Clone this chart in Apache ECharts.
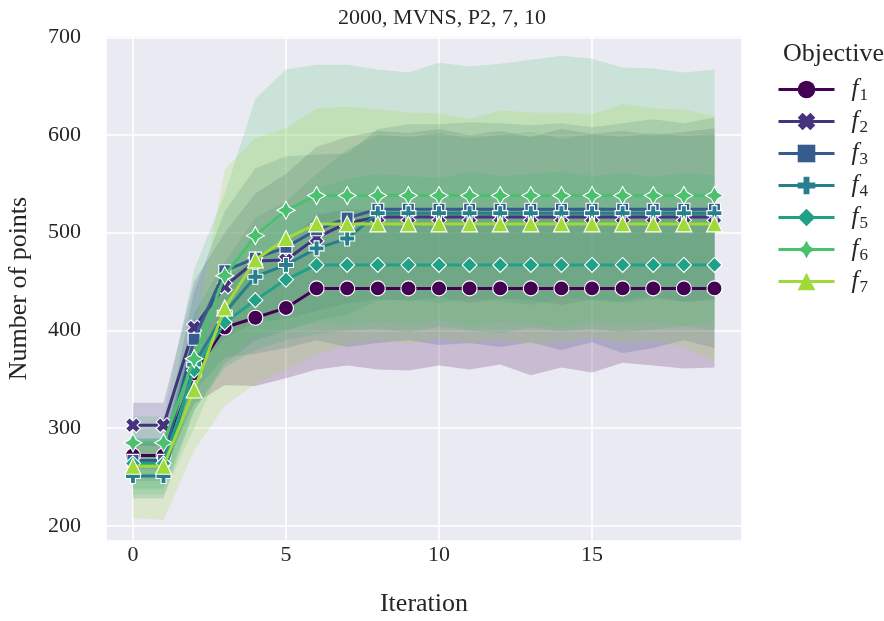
<!DOCTYPE html>
<html>
<head>
<meta charset="utf-8">
<script src="https://cdn.jsdelivr.net/npm/echarts@6/dist/echarts.min.js"></script>
<style>
  html, body { margin: 0; padding: 0; background: #ffffff; }
  #chart { width: 884px; height: 621px; }
</style>
</head>
<body>
<div id="chart"></div>
<script>
// Iterations on the x axis
const iterations = [0, 1, 2, 3, 4, 5, 6, 7, 8, 9, 10, 11, 12, 13, 14, 15, 16, 17, 18, 19];

// Mean number of points per objective
const f1Mean = [272, 272, 356, 403, 413, 423, 443, 443, 443, 443, 443, 443, 443, 443, 443, 443, 443, 443, 443, 443];
const f2Mean = [303, 303, 403, 445, 471, 472, 495, 510, 516, 516, 516, 516, 516, 516, 516, 516, 516, 516, 516, 516];
const f3Mean = [267, 267, 391, 461, 474, 485, 503, 515, 524, 524, 524, 524, 524, 524, 524, 524, 524, 524, 524, 524];
const f4Mean = [251, 251, 365, 418, 455, 467, 484, 494, 520, 520, 520, 520, 520, 520, 520, 520, 520, 520, 520, 520];
const f5Mean = [264, 264, 359, 408, 431, 452, 467, 467, 467, 467, 467, 467, 467, 467, 467, 467, 467, 467, 467, 467];
const f6Mean = [285, 285, 371, 456, 497, 523, 538, 538, 538, 538, 538, 538, 538, 538, 538, 538, 538, 538, 538, 538];
const f7Mean = [261, 261, 339, 423, 472, 494, 509, 509, 509, 509, 509, 509, 509, 509, 509, 509, 509, 509, 509, 509];

// Interval bounds (lower / upper) per objective
const f1Low  = [258, 258, 325, 344, 343, 351, 360, 364, 360, 359, 364, 360, 365, 354, 362, 357, 367, 364, 361, 362];
const f1High = [286, 286, 395, 455, 472, 488, 518, 524, 522, 526, 520, 527, 523, 525, 521, 528, 522, 526, 524, 520];
const f2Low  = [282, 282, 360, 392, 408, 412, 420, 428, 432, 430, 434, 428, 433, 431, 426, 432, 430, 435, 429, 431];
const f2High = [326, 326, 450, 500, 540, 560, 588, 598, 604, 602, 606, 600, 604, 598, 606, 601, 604, 600, 603, 607];
const f3Low  = [246, 246, 338, 372, 376, 382, 390, 383, 387, 390, 385, 387, 383, 388, 380, 388, 377, 382, 390, 382];
const f3High = [289, 289, 440, 522, 566, 578, 580, 581, 606, 611, 611, 613, 612, 610, 612, 608, 612, 616, 612, 618];
const f4Low  = [228, 228, 318, 366, 390, 400, 410, 416, 430, 432, 428, 433, 430, 426, 434, 431, 428, 432, 430, 433];
const f4High = [273, 273, 418, 470, 515, 532, 560, 585, 600, 598, 602, 597, 600, 603, 596, 601, 598, 602, 599, 601];
const f5Low  = [238, 238, 318, 362, 380, 390, 396, 400, 402, 398, 404, 400, 397, 403, 399, 402, 398, 401, 404, 400];
const f5High = [290, 290, 400, 462, 492, 520, 545, 555, 560, 558, 556, 562, 558, 560, 563, 558, 561, 557, 561, 559];
const f6Low  = [232, 232, 300, 372, 396, 402, 408, 405, 410, 406, 411, 404, 409, 407, 403, 410, 406, 409, 405, 408];
const f6High = [312, 312, 462, 540, 637, 667, 672, 672, 667, 664, 674, 670, 673, 677, 681, 678, 669, 668, 664, 667];
const f7Low  = [208, 206, 277, 323, 345, 360, 375, 385, 390, 386, 392, 388, 391, 385, 389, 393, 387, 390, 383, 368];
const f7High = [282, 282, 392, 565, 597, 607, 627, 629, 626, 623, 622, 617, 625, 623, 623, 621, 632, 627, 626, 619];

const objectiveNames = ['f1', 'f2', 'f3', 'f4', 'f5', 'f6', 'f7'];
const means = [f1Mean, f2Mean, f3Mean, f4Mean, f5Mean, f6Mean, f7Mean];
const lows  = [f1Low, f2Low, f3Low, f4Low, f5Low, f6Low, f7Low];
const highs = [f1High, f2High, f3High, f4High, f5High, f6High, f7High];

// viridis-based palette
const colors = ['#440154', '#46337e', '#365c8d', '#277f8e', '#1fa187', '#4ac16d', '#a0da39'];

// marker shapes: circle, X, square, plus, diamond, four-point star, triangle
const symbols = [
  'circle',
  'path://M28,0 L50,22 L72,0 L100,28 L78,50 L100,72 L72,100 L50,78 L28,100 L0,72 L22,50 L0,28 Z',
  'rect',
  'path://M20,0 L40,0 L40,20 L60,20 L60,40 L40,40 L40,60 L20,60 L20,40 L0,40 L0,20 L20,20 Z',
  'diamond',
  'path://M50,0 L68,32 L100,50 L68,68 L50,100 L32,68 L0,50 L32,32 Z',
  'triangle'
];
const symbolSizes = [15, 15, 12, 15, 15, 18, 16];

const FONT = '"Liberation Serif", "DejaVu Serif", serif';

const series = [];
// shaded intervals (polygon between lower and upper bounds), under every line
objectiveNames.forEach((name, i) => {
  series.push({
    type: 'custom',
    name: name + '-interval',
    silent: true,
    z: 1,
    clip: true,
    encode: { x: 0, y: [1, 2] },
    data: iterations.map((x, k) => [x, lows[i][k], highs[i][k]]),
    renderItem: (params, api) => {
      if (params.dataIndex !== 0) return null;
      const pts = [];
      for (let k = 0; k < iterations.length; k++) pts.push(api.coord([iterations[k], highs[i][k]]));
      for (let k = iterations.length - 1; k >= 0; k--) pts.push(api.coord([iterations[k], lows[i][k]]));
      return {
        type: 'polygon',
        shape: { points: pts },
        style: { fill: colors[i], opacity: 0.2 }
      };
    }
  });
});
// mean lines with markers
objectiveNames.forEach((name, i) => {
  series.push({
    type: 'line',
    name: name,
    data: iterations.map((x, k) => [x, means[i][k]]),
    symbol: symbols[i],
    symbolSize: symbolSizes[i],
    symbolKeepAspect: true,
    showAllSymbol: true,
    lineStyle: { color: colors[i], width: 3 },
    itemStyle: { color: colors[i], borderColor: '#ffffff', borderWidth: 1.1 },
    emphasis: { disabled: true },
    z: 3 + i
  });
});

const chart = echarts.init(document.getElementById('chart'), null, { renderer: 'canvas' });
chart.setOption({
  animation: false,
  backgroundColor: '#ffffff',
  title: [
    {
      text: '2000, MVNS, P2, 7, 10',
      left: 437, top: 2, textAlign: 'center',
      textStyle: { fontFamily: FONT, fontSize: 22, fontWeight: 'normal', color: '#262626' }
    },
    {
      text: 'Objective',
      left: 778, top: 36,
      textStyle: { fontFamily: FONT, fontSize: 26, fontWeight: 'normal', color: '#262626' }
    }
  ],
  grid: {
    left: 106, right: 142, top: 36, bottom: 80,
    outerBoundsMode: 'none',
    containLabel: false,
    show: true, backgroundColor: '#eaeaf2', borderWidth: 0
  },
  xAxis: {
    type: 'value',
    min: -0.88, max: 19.9,
    name: 'Iteration', nameLocation: 'middle', nameGap: 50,
    nameTextStyle: { fontFamily: FONT, fontSize: 26, color: '#262626' },
    axisLine: { show: false }, axisTick: { show: false },
    axisLabel: { fontFamily: FONT, fontSize: 22, color: '#262626', margin: 3, showMinLabel: false, showMaxLabel: false },
    splitLine: { show: true, lineStyle: { color: '#ffffff', width: 1.6 } }
  },
  yAxis: {
    type: 'value',
    min: 184.5, max: 701.3,
    name: 'Number of points', nameLocation: 'middle', nameGap: 74,
    nameTextStyle: { fontFamily: FONT, fontSize: 26, color: '#262626' },
    axisLine: { show: false }, axisTick: { show: false },
    axisLabel: { fontFamily: FONT, fontSize: 22, color: '#262626', margin: 25, showMinLabel: false, showMaxLabel: false },
    splitLine: { show: true, lineStyle: { color: '#ffffff', width: 1.6 } }
  },
  legend: {
    data: objectiveNames,
    orient: 'vertical',
    left: 772, top: 72,
    itemWidth: 56, itemHeight: 22, itemGap: 5,
    lineStyle: { width: 3 },
    itemStyle: { borderWidth: 0 },
    formatter: (name) => '{i|f}{s|' + name.slice(1) + '}',
    textStyle: {
      fontFamily: FONT, color: '#262626',
      rich: {
        i: { fontFamily: FONT, fontStyle: 'italic', fontSize: 25, color: '#262626', padding: [0, 0, 0, 12] },
        s: { fontFamily: FONT, fontSize: 17, color: '#262626', padding: [12, 0, 0, 1] }
      }
    },
    selectedMode: false
  },
  series: series
});
</script>
</body>
</html>
